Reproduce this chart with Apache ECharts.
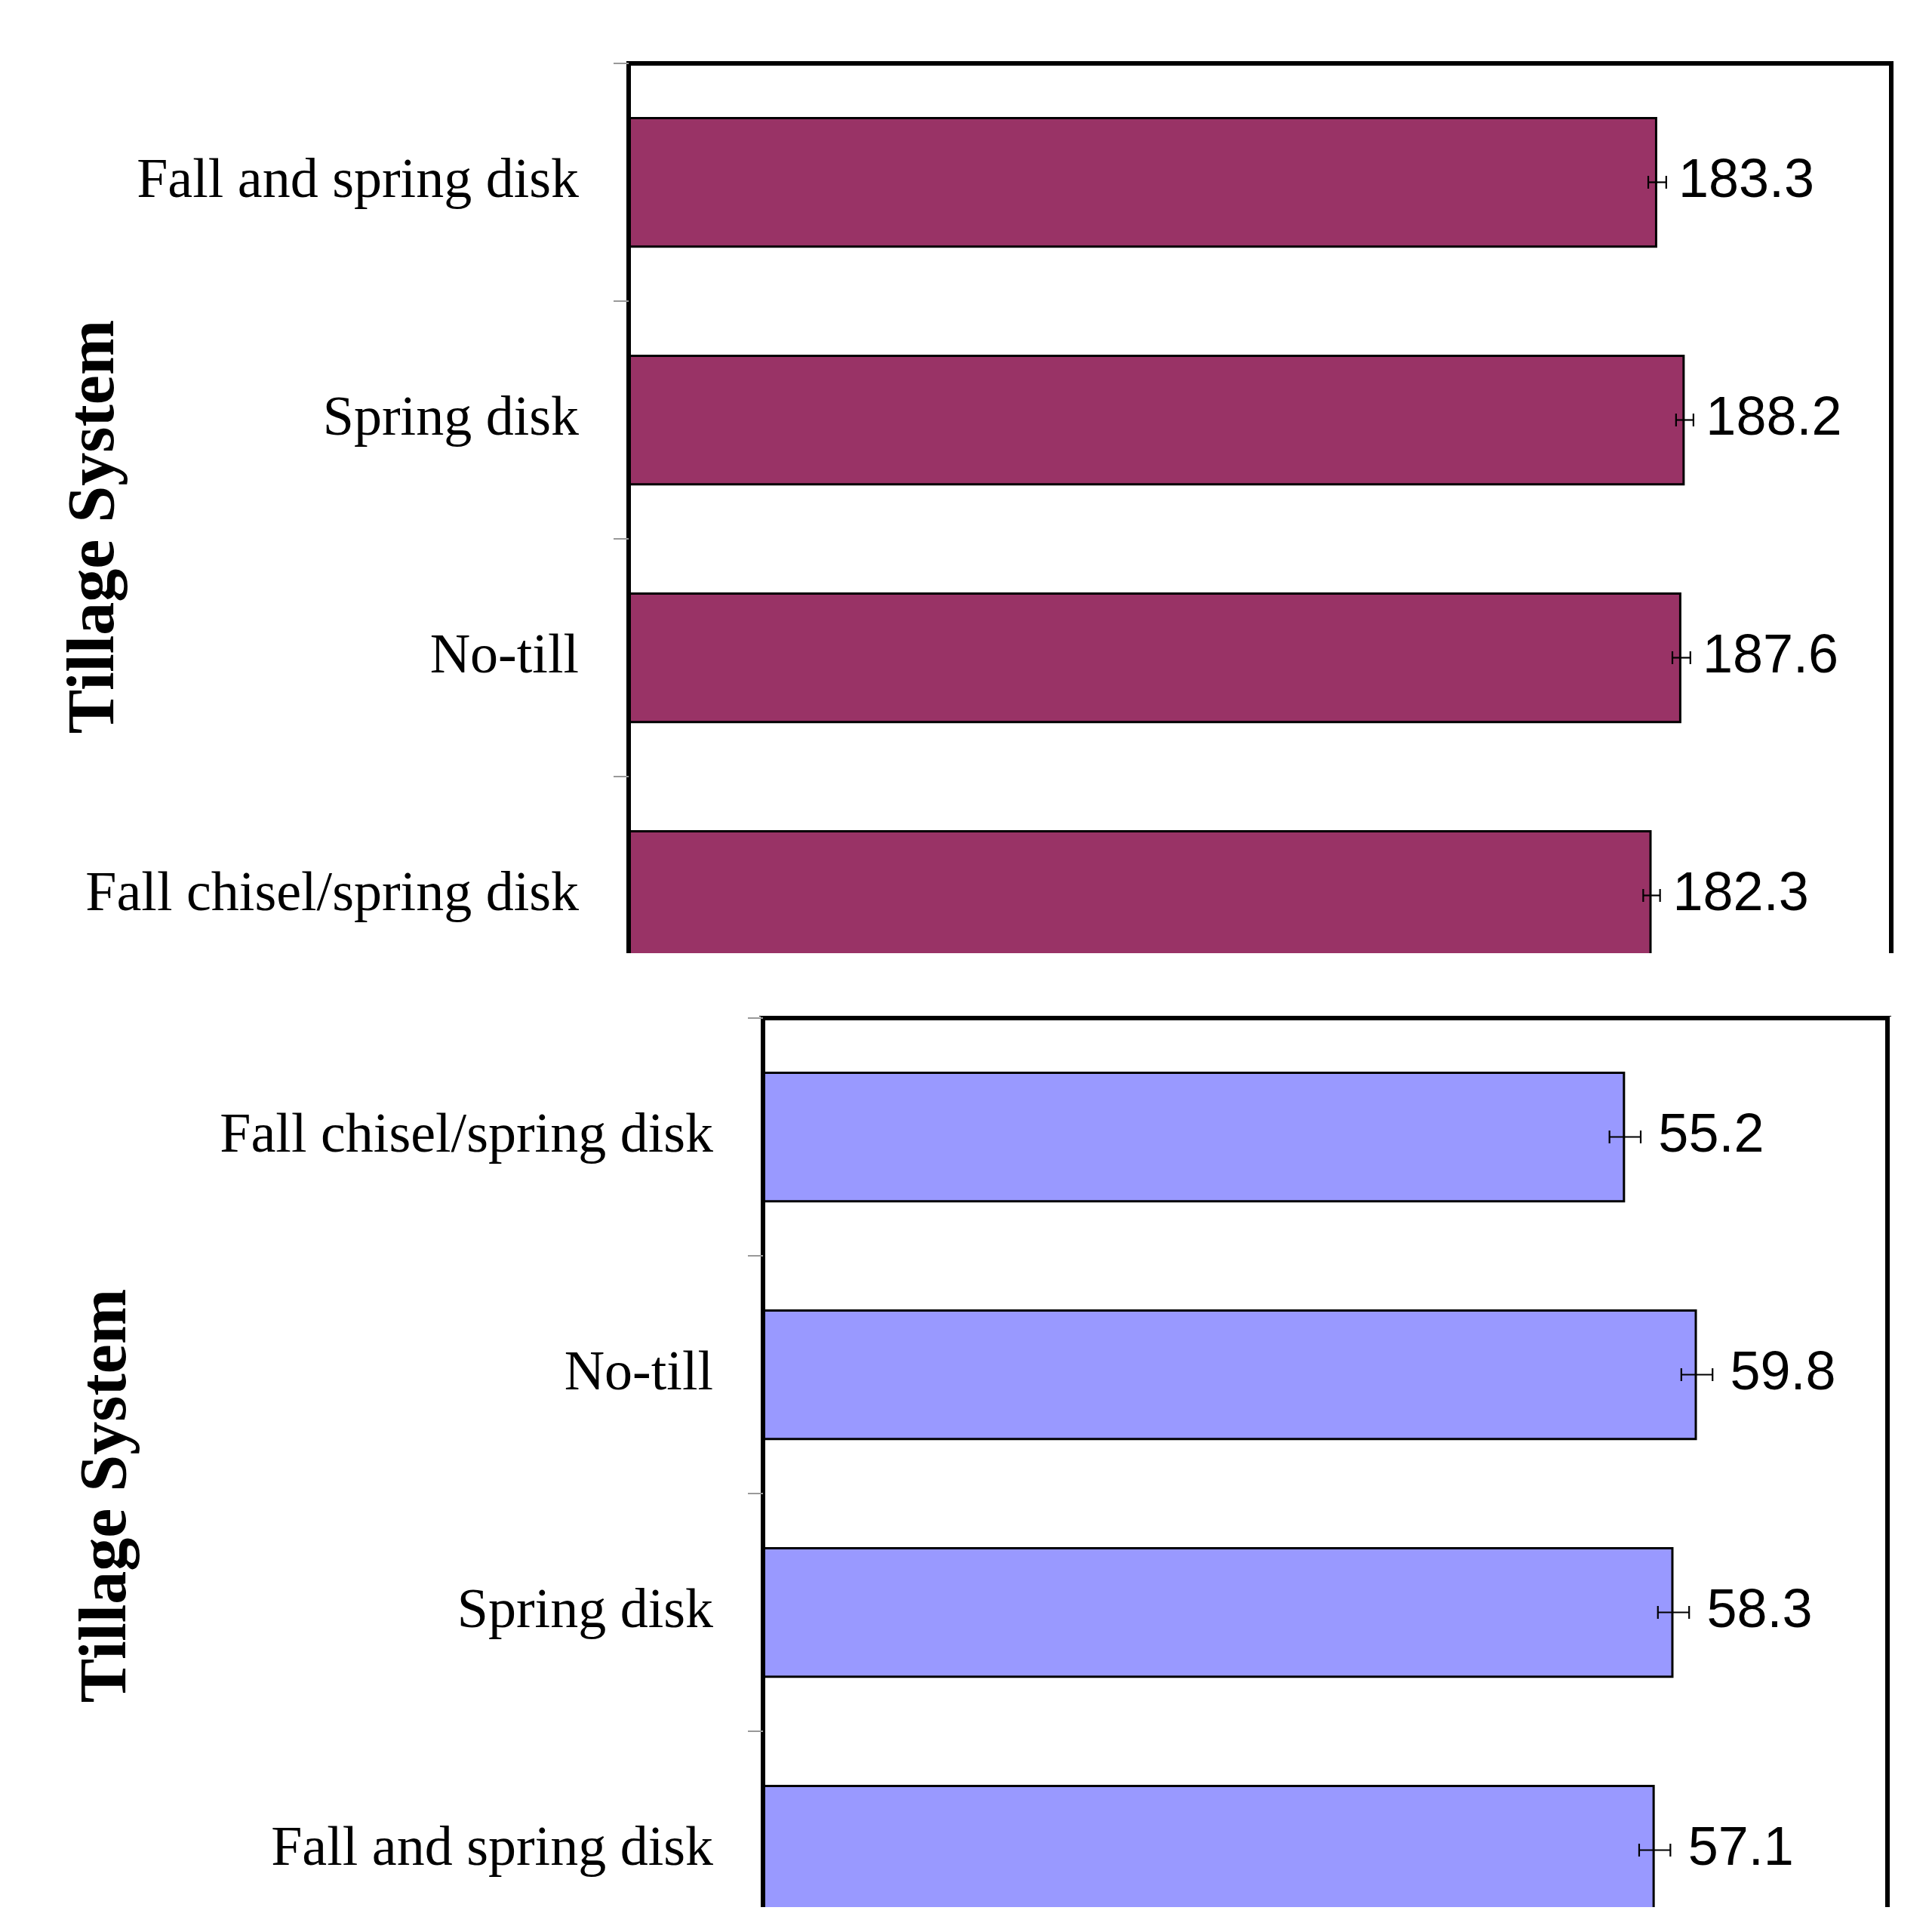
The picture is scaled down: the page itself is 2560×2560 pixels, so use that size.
<!DOCTYPE html>
<html><head><meta charset="utf-8">
<script src="https://cdn.jsdelivr.net/npm/echarts@6/dist/echarts.min.js"></script>
<style>html,body{margin:0;padding:0;background:#fff}#c{width:2560px;height:2560px}</style>
</head><body><div id="c"></div>
<script>
// ---- data ----
const topCategories = ['Fall and spring disk', 'Spring disk', 'No-till', 'Fall chisel/spring disk'];
const topValues = [183.3, 188.2, 187.6, 182.3];
const topErrors = [1.6, 1.55, 1.6, 1.5];
const bottomCategories = ['Fall chisel/spring disk', 'No-till', 'Spring disk', 'Fall and spring disk'];
const bottomValues = [55.2, 59.8, 58.3, 57.1];
const bottomErrors = [1.0, 1.0, 1.0, 1.0];
const axisTitle = 'Tillage System';
const topAxisMax = 225;
const bottomAxisMax = 72;

const chart = echarts.init(document.getElementById('c'), null, {renderer: 'canvas'});

function renderErr(params, api) {
  const v = api.value(0), c = api.value(1), e = api.value(2);
  const p1 = api.coord([v - e, c]);
  const p2 = api.coord([v + e, c]);
  const h = 8.5;
  const st = {stroke: '#000', lineWidth: 2.2};
  return {type: 'group', children: [
    {type: 'line', shape: {x1: p1[0], y1: p1[1], x2: p2[0], y2: p2[1]}, style: st},
    {type: 'line', shape: {x1: p1[0], y1: p1[1] - h, x2: p1[0], y2: p1[1] + h}, style: st},
    {type: 'line', shape: {x1: p2[0], y1: p2[1] - h, x2: p2[0], y2: p2[1] + h}, style: st}
  ]};
}

function yAxisCfg(idx, cats) {
  return {
    type: 'category', gridIndex: idx, data: cats, inverse: true,
    axisLine: {show: true, lineStyle: {color: '#000', width: 6}},
    axisTick: {show: true, length: 20, lineStyle: {color: '#999', width: 2}},
    axisLabel: {margin: 66, color: '#000', fontFamily: 'Liberation Serif', fontSize: 74}
  };
}

const option = {
  backgroundColor: '#fff',
  animation: false,
  grid: [
    {left: 833, top: 84, width: 1673, height: 1260, show: true, borderColor: '#000', borderWidth: 6,
      backgroundColor: 'transparent', outerBoundsMode: 'none', containLabel: false},
    {left: 1011, top: 1349, width: 1490, height: 1260, show: true, borderColor: '#000', borderWidth: 6,
      backgroundColor: 'transparent', outerBoundsMode: 'none', containLabel: false}
  ],
  xAxis: [
    {type: 'value', gridIndex: 0, min: 0, max: topAxisMax, show: false},
    {type: 'value', gridIndex: 1, min: 0, max: bottomAxisMax, show: false}
  ],
  yAxis: [yAxisCfg(0, topCategories), yAxisCfg(1, bottomCategories)],
  series: [
    {
      type: 'bar', xAxisIndex: 0, yAxisIndex: 0, data: topValues, barWidth: '55%',
      itemStyle: {color: '#993366', borderColor: '#000', borderWidth: 3},
      label: {show: true, position: 'right', distance: 28, color: '#000', fontFamily: 'Liberation Sans', fontSize: 72,
        formatter: p => p.value.toFixed(1)}
    },
    {
      type: 'custom', xAxisIndex: 0, yAxisIndex: 0, renderItem: renderErr, z: 5,
      encode: {x: 0, y: 1},
      data: topValues.map((v, i) => [v, i, topErrors[i]])
    },
    {
      type: 'bar', xAxisIndex: 1, yAxisIndex: 1, data: bottomValues, barWidth: '55%',
      itemStyle: {color: '#9999FF', borderColor: '#000', borderWidth: 3},
      label: {show: true, position: 'right', distance: 44, color: '#000', fontFamily: 'Liberation Sans', fontSize: 72,
        formatter: p => p.value.toFixed(1)}
    },
    {
      type: 'custom', xAxisIndex: 1, yAxisIndex: 1, renderItem: renderErr, z: 5,
      encode: {x: 0, y: 1},
      data: bottomValues.map((v, i) => [v, i, bottomErrors[i]])
    }
  ],
  graphic: [
    {type: 'rect', z: 100, shape: {x: 0, y: 1263, width: 2560, height: 83}, style: {fill: '#fff'}},
    {type: 'rect', z: 100, shape: {x: 0, y: 1340, width: 1006, height: 7.6}, style: {fill: '#fff'}},
    {type: 'rect', z: 100, shape: {x: 2506, y: 1340, width: 54, height: 10}, style: {fill: '#fff'}},
    {type: 'rect', z: 100, shape: {x: 0, y: 2527, width: 2560, height: 40}, style: {fill: '#fff'}},
    {type: 'text', z: 101, x: 127, y: 698, rotation: Math.PI / 2,
      style: {text: axisTitle, fontFamily: 'Liberation Serif', fontWeight: 'bold', fontSize: 88, fill: '#000', align: 'center', verticalAlign: 'middle'}},
    {type: 'text', z: 101, x: 143, y: 1982, rotation: Math.PI / 2,
      style: {text: axisTitle, fontFamily: 'Liberation Serif', fontWeight: 'bold', fontSize: 88, fill: '#000', align: 'center', verticalAlign: 'middle'}}
  ]
};
chart.setOption(option);
</script>
</body></html>
